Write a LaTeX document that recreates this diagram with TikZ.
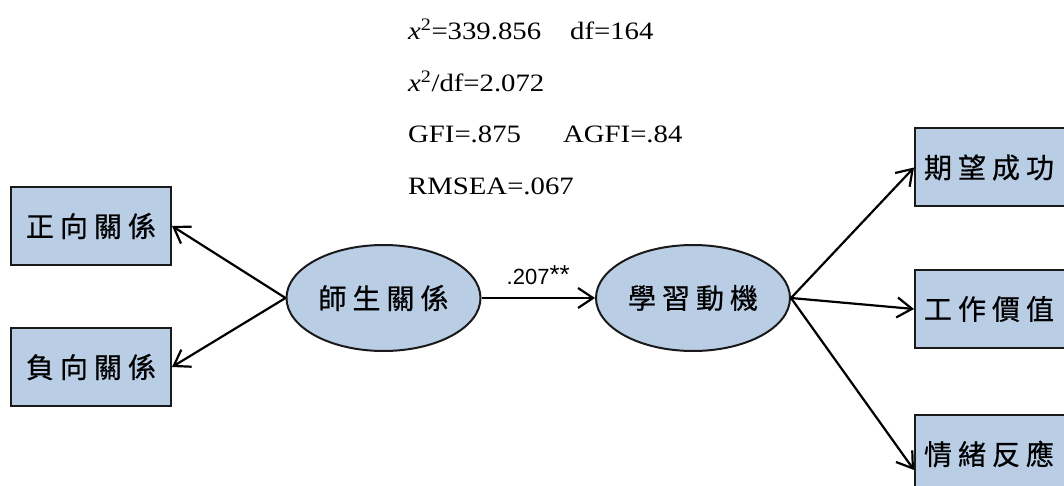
\documentclass[tikz,border=0pt]{standalone}
\usepackage{fontspec}
\setmainfont{Liberation Serif}
\newfontfamily\cjk[FakeBold=0.6]{Noto Sans CJK TC}
\newfontfamily\statfont[FakeStretch=1.15]{Liberation Serif}
\newfontfamily\labfont{Liberation Sans}
\usetikzlibrary{shapes.geometric,arrows.meta}
\definecolor{boxfill}{HTML}{B9CDE5}
\definecolor{edgecol}{HTML}{1A1A1A}
\newcommand{\cg}{\hspace{6pt}}
\begin{document}
\begin{tikzpicture}[x=1pt,y=-1pt,
  box/.style={draw=edgecol, line width=2pt, fill=boxfill, minimum width=160pt,
    minimum height=78pt, inner sep=0pt, font=\cjk\fontsize{28}{30}\selectfont},
  rbox/.style={box, minimum width=200pt, text width=182pt, align=left},
  lat/.style={ellipse, draw=edgecol, line width=2pt, fill=boxfill, minimum width=194pt,
    minimum height=106pt, inner sep=0pt, font=\cjk\fontsize{28}{30}\selectfont},
  link/.style={draw=black, line width=2.2pt, -{Straight Barb[length=15pt,width=20pt]}},
  stat/.style={anchor=base west, inner sep=0pt, font=\statfont\fontsize{25}{27}\selectfont}
]
\useasboundingbox (0,0) rectangle (1064,486);
\clip (0,0) rectangle (1064,486);

% fit statistics
\node[stat] (s1a) at (408,40) {{\itshape x}\textsuperscript{2}=339.856};
\node[stat] (s1b) at (570,40) {df=164};
\node[stat] (s2)  at (408,92) {{\itshape x}\textsuperscript{2}/df=2.072};
\node[stat] (s3a) at (408,143) {GFI=.875};
\node[stat] (s3b) at (563,143) {AGFI=.84};
\node[stat] (s4)  at (408,195) {RMSEA=.067};

% left indicators
\node[box] (l1) at (91,226) {正\cg 向\cg 關\cg 係};
\node[box] (l2) at (91,367) {負\cg 向\cg 關\cg 係};

% latent variables
\node[lat] (e1) at (383.5,298) {師\cg 生\cg 關\cg 係};
\node[lat] (e2) at (693,298) {學\cg 習\cg 動\cg 機};

% right indicators
\node[rbox, anchor=west] (r1) at (914,167.5) {期\cg 望\cg 成\cg 功};
\node[rbox, anchor=west] (r2) at (914,309) {工\cg 作\cg 價\cg 值};
\node[rbox, anchor=west] (r3) at (914,454) {情\cg 緒\cg 反\cg 應};

% connectors
\draw[link] (e1.west) -- (l1.east);
\draw[link] (e1.west) -- (l2.east);
\draw[link] (e1.east) -- (e2.west)
  node[pos=0.5, above=12pt, inner sep=0pt, font=\labfont\fontsize{22}{24}\selectfont] (coef)
  {.207\raisebox{1pt}{\fontsize{26}{26}\selectfont**}};
\draw[link] (e2.east) -- (r1.west);
\draw[link] (e2.east) -- (r2.west);
\draw[link] (e2.east) -- ([yshift=-16pt]r3.west);
\end{tikzpicture}
\end{document}
